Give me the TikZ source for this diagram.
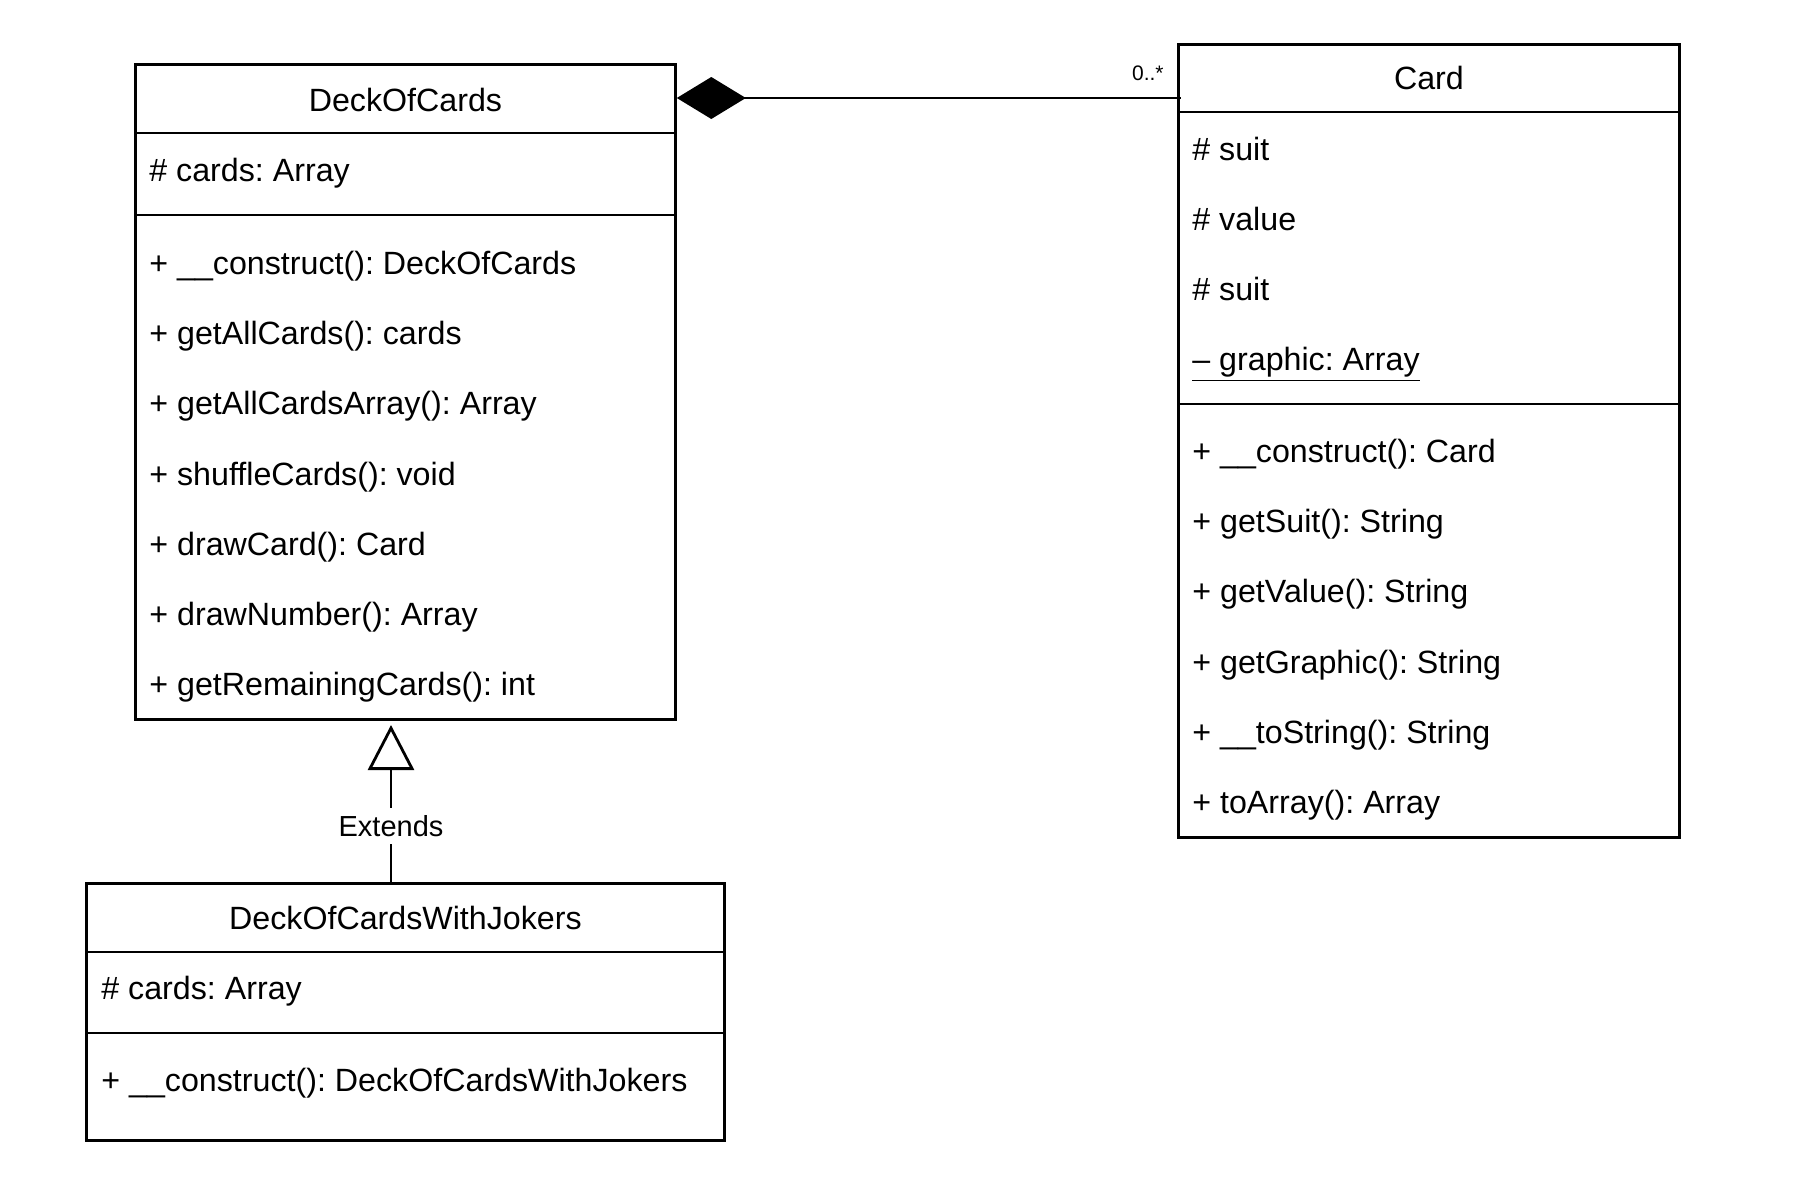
\documentclass[tikz,border=0pt]{standalone}
\usepackage{fontspec}
\setmainfont{Liberation Sans}
\usetikzlibrary{arrows.meta,positioning,calc}
\frenchspacing
\tikzset{
classbox/.style={draw,line width=1.4pt,anchor=north west,inner sep=0pt},
sepline/.style={line width=1.4pt},
member/.style={anchor=west,inner sep=0pt,text height=11.5pt,text depth=0pt,font=\fontsize{16.1pt}{19pt}\selectfont},
classname/.style={inner sep=0pt,text height=11.5pt,text depth=0pt,font=\fontsize{16.1pt}{19pt}\selectfont},
assoc/.style={line width=1.4pt},
}
\begin{document}
\begin{tikzpicture}[x=0.5pt,y=-0.5pt]
\useasboundingbox (0,0) rectangle (1800,1194);
% DeckOfCards
\node[classbox,minimum width=270pt,minimum height=327.5pt] (deck) at (134,63) {};
\node[classname] (deckName) at (deck.north |- 0,100) {DeckOfCards};
\draw[sepline] (deck.west |- 0,133) -- (deck.east |- 0,133);
\draw[sepline] (deck.west |- 0,215) -- (deck.east |- 0,215);
\node[member] (deckAttr) at (149,170) {\# cards: Array};
\foreach \t [count=\i] in {+ \_\_construct(): DeckOfCards,+ getAllCards(): cards,+ getAllCardsArray(): Array,+ shuffleCards(): void,+ drawCard(): Card,+ drawNumber(): Array,+ getRemainingCards(): int}
  \node[member] (deckOp\i) at (149,{263+70.2*(\i-1)}) {\t};
% Card
\node[classbox,minimum width=250.5pt,minimum height=396.5pt] (card) at (1177,43) {};
\node[classname] (cardName) at (card.north |- 0,78) {Card};
\draw[sepline] (card.west |- 0,112) -- (card.east |- 0,112);
\draw[sepline] (card.west |- 0,404) -- (card.east |- 0,404);
\foreach \t [count=\i] in {\# suit,\# value,\# suit,\underline{– graphic: Array}}
  \node[member] (cardAttr\i) at (1192,{149+70*(\i-1)}) {\t};
\foreach \t [count=\i] in {+ \_\_construct(): Card,+ getSuit(): String,+ getValue(): String,+ getGraphic(): String,+ \_\_toString(): String,+ toArray(): Array}
  \node[member] (cardOp\i) at (1192,{451+70.2*(\i-1)}) {\t};
% DeckOfCardsWithJokers
\node[classbox,minimum width=319pt,minimum height=128.5pt] (jokers) at (85,882) {};
\node[classname] (jokersName) at (jokers.north |- 0,918) {DeckOfCardsWithJokers};
\draw[sepline] (jokers.west |- 0,952) -- (jokers.east |- 0,952);
\draw[sepline] (jokers.west |- 0,1033) -- (jokers.east |- 0,1033);
\node[member] (jokersAttr) at (101,988) {\# cards: Array};
\node[member] (jokersOp) at (101,1080) {+ \_\_construct(): DeckOfCardsWithJokers};
% connectors
\coordinate (compEnd) at (1181,98);
\coordinate (genTip) at (391,725);
\draw[assoc,{Diamond[length=34.5pt,width=21pt]}-] (deck.east |- compEnd) -- (compEnd);
\node[anchor=east,inner sep=0pt,font=\fontsize{10.5pt}{12pt}\selectfont] (mult) at (1164,73) {0..*};
\draw[assoc,{Triangle[open,length=22.5pt,width=23pt]}-] (genTip) -- node[pos=0.643,fill=white,inner sep=1pt,minimum height=18pt,font=\fontsize{14.5pt}{17pt}\selectfont] (ext) {Extends} (jokers.north -| genTip);
\end{tikzpicture}
\end{document}
